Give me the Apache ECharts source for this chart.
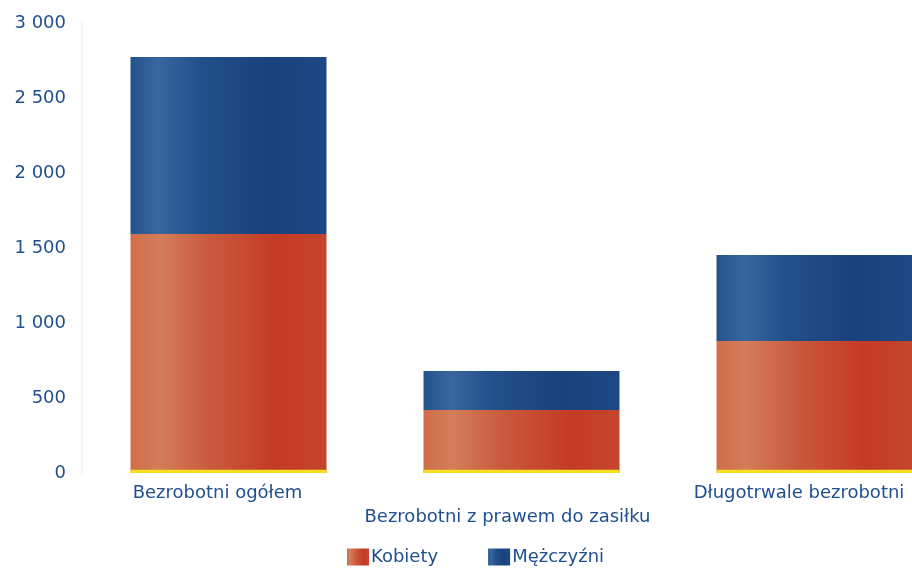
<!DOCTYPE html>
<html>
<head>
<meta charset="utf-8">
<script src="https://cdn.jsdelivr.net/npm/echarts@6/dist/echarts.min.js"></script>
<style>
  html, body { margin: 0; padding: 0; background: #fff; }
  #chart { width: 912px; height: 570px; }
</style>
</head>
<body>
<div id="chart"></div>
<script>
// dane
const kategorie = ['Bezrobotni ogółem', 'Bezrobotni z prawem do zasiłku', 'Długotrwale bezrobotni'];
const kobiety = [1593, 420, 880];
const mezczyzni = [1180, 260, 573];
const podstawa = [22, 22, 22]; // żółty pasek u dołu słupków
const osY = [0, 500, 1000, 1500, 2000, 2500, 3000];

const niebieski = '#1f4f8f';
const font = '"DejaVu Sans", Verdana, sans-serif';

const mychart = echarts.init(document.getElementById('chart'));

const gradCzerwony = new echarts.graphic.LinearGradient(0, 0, 1, 0, [
  { offset: 0, color: '#cf6d4a' },
  { offset: 0.15, color: '#d47d5a' },
  { offset: 0.4, color: '#c95a3e' },
  { offset: 0.75, color: '#c53a25' },
  { offset: 1, color: '#c4452e' }
]);
const gradNiebieski = new echarts.graphic.LinearGradient(0, 0, 1, 0, [
  { offset: 0, color: '#23538c' },
  { offset: 0.14, color: '#3a66a0' },
  { offset: 0.35, color: '#22508a' },
  { offset: 0.7, color: '#1a427d' },
  { offset: 1, color: '#1d4884' }
]);

// przesunięcia etykiet osi X
const przesuniecia = [[0, 22, 0, 0], [24, 28, 0, 0], [0, 31, 0, 0]];

const option = {
  backgroundColor: '#ffffff',
  animation: false,
  grid: {
    outerBoundsMode: 'none',
    containLabel: false,
    top: 23,
    bottom: 97,
    left: 82,
    right: -49
  },
  legend: {
    data: ['Kobiety', 'Mężczyźni'],
    left: 347,
    top: 548,
    padding: 0,
    itemWidth: 22,
    itemHeight: 17,
    itemGap: 50,
    icon: 'rect',
    textStyle: { color: niebieski, fontSize: 18, fontFamily: font, padding: [0, 0, 0, -3] }
  },
  xAxis: {
    type: 'category',
    data: kategorie.map((k, i) => ({ value: k, textStyle: { padding: przesuniecia[i] } })),
    axisLine: { show: false },
    axisTick: { show: false },
    axisLabel: {
      interval: 0,
      margin: 11,
      color: niebieski,
      fontSize: 18,
      fontFamily: font
    }
  },
  yAxis: {
    type: 'value',
    min: osY[0],
    max: osY[osY.length - 1],
    interval: 500,
    axisLine: { show: true, lineStyle: { color: '#f3f3f0', width: 2 } },
    axisTick: { show: false },
    splitLine: { show: false },
    axisLabel: {
      margin: 16,
      color: niebieski,
      fontSize: 18,
      fontFamily: font,
      formatter: v => String(v).replace(/\B(?=(\d{3})+(?!\d))/g, ' ')
    }
  },
  series: [
    {
      name: 'Kobiety',
      type: 'bar',
      stack: 'razem',
      barWidth: 196,
      barGap: '-100%',
      data: kobiety,
      itemStyle: { color: gradCzerwony }
    },
    {
      name: 'Mężczyźni',
      type: 'bar',
      stack: 'razem',
      barWidth: 196,
      data: mezczyzni,
      itemStyle: { color: gradNiebieski }
    },
    {
      name: 'podstawa',
      type: 'bar',
      barWidth: 196,
      barGap: '-100%',
      z: 3,
      data: podstawa,
      itemStyle: { color: '#f7df1e' },
      silent: true
    }
  ]
};
mychart.setOption(option, true);
</script>
</body>
</html>
